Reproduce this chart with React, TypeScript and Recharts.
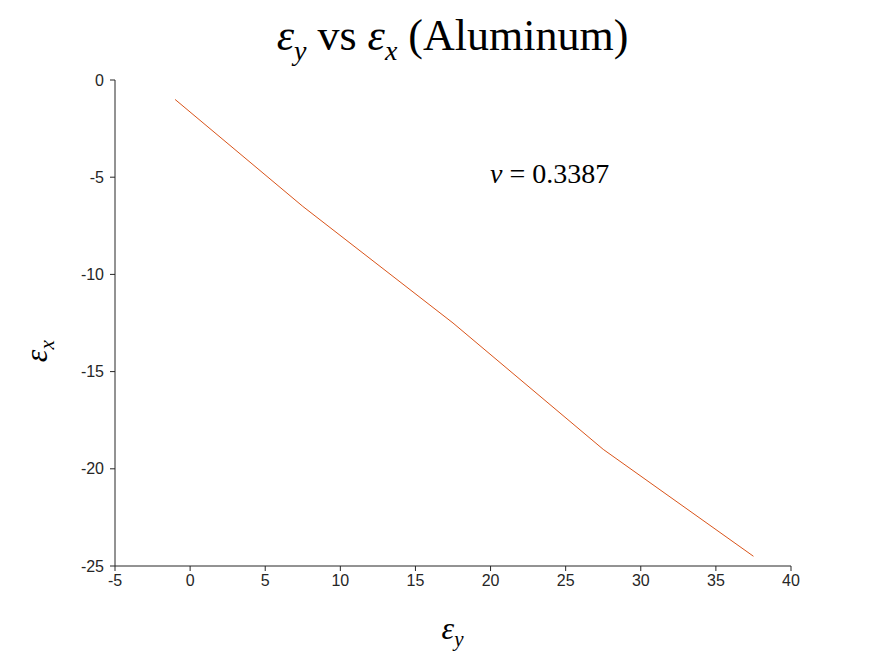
import { LineChart, Line, XAxis, YAxis } from "recharts";

const strainY = [-1, 7.5, 17.5, 27.5, 37.5];
const strainX = [-1, -6.5, -12.5, -19, -24.5];
const xTicks = [-5, 0, 5, 10, 15, 20, 25, 30, 35, 40];
const yTicks = [-25, -20, -15, -10, -5, 0];
const poisson = "0.3387";

const data = strainY.map((ey, i) => ({ ey, ex: strainX[i] }));

const tickStyle = { fill: "#262626", fontSize: 16, fontFamily: "Liberation Sans, Arial, sans-serif" };
const serif = "'Liberation Serif', 'DejaVu Serif', serif";

export default function App() {
  return (
    <div style={{ position: "absolute", left: 0, top: 0, width: 875, height: 656, background: "#fff" }}>
      <LineChart width={875} height={656} data={data} margin={{ top: 80, right: 84, bottom: 60, left: 75 }}>
        <XAxis
          dataKey="ey"
          type="number"
          domain={[-5, 40]}
          ticks={xTicks}
          height={30}
          tick={tickStyle}
          tickSize={5}
          tickMargin={4}
          stroke="#262626"
          allowDataOverflow
        />
        <YAxis
          dataKey="ex"
          type="number"
          domain={[-25, 0]}
          ticks={yTicks}
          width={40}
          tick={tickStyle}
          tickSize={5}
          tickMargin={6}
          stroke="#262626"
          allowDataOverflow
        />
        <Line dataKey="ex" stroke="#D95319" strokeWidth={1} dot={false} isAnimationActive={false} />
      </LineChart>
      <div style={{ position: "absolute", left: 0, width: 905, top: 10, textAlign: "center", fontFamily: serif, fontSize: 44, color: "#000" }}>
        <i>ε</i><sub style={{ fontSize: 28 }}><i>y</i></sub> vs <i>ε</i><sub style={{ fontSize: 28 }}><i>x</i></sub> (Aluminum)
      </div>
      <div style={{ position: "absolute", left: 490, top: 158, fontFamily: serif, fontSize: 28, color: "#000" }}>
        <i>ν</i> = {poisson}
      </div>
      <div style={{ position: "absolute", left: 0, width: 905, top: 610, textAlign: "center", fontFamily: serif, fontSize: 32 }}>
        <i>ε</i><sub style={{ fontSize: 21 }}><i>y</i></sub>
      </div>
      <div style={{ position: "absolute", left: 28, top: 330, fontFamily: serif, fontSize: 32, transform: "rotate(-90deg)", transformOrigin: "center" }}>
        <i>ε</i><sub style={{ fontSize: 21 }}><i>x</i></sub>
      </div>
    </div>
  );
}
